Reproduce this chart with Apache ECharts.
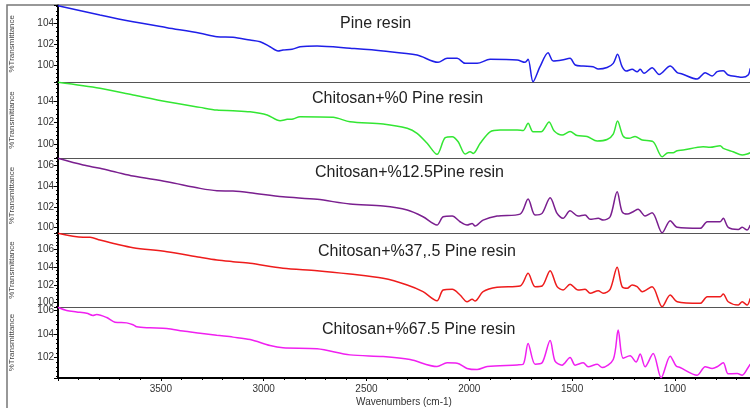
<!DOCTYPE html>
<html>
<head>
<meta charset="utf-8">
<script src="https://cdn.jsdelivr.net/npm/echarts@6/dist/echarts.min.js"></script>
<style>
  html, body { margin: 0; padding: 0; background: #fff; }
  #chart { width: 750px; height: 408px; }
</style>
</head>
<body>
<div id="chart"></div>
<script>
// FTIR spectra, [wavenumber, %T]
const sampleNames = [
  'Pine resin',
  'Chitosan+%0 Pine resin',
  'Chitosan+%12.5Pine resin',
  'Chitosan+%37,.5 Pine resin',
  'Chitosan+%67.5 Pine resin'
];

const pineResin = [
  [4000,105.69],[3796,104.8],[3635,104.15],[3470,103.58],[3309,103.04],[3227,102.71],[3149,102.65],
  [3066,102.39],[3017,102.23],[2969,101.75],[2930,101.34],[2906,101.43],[2862,101.5],[2823,101.75],
  [2740,101.82],[2580,101.6],[2419,101.34],[2254,100.95],[2152,100.25],[2108,100.63],[2059,100.63],
  [2020,100.15],[1962,100.15],[1899,100.54],[1767,100.47],[1729,100.25],[1714,100.54],[1690,98.38],
  [1656,99.83],[1617,101.17],[1592,100.38],[1549,100.47],[1510,100.63],[1485,99.99],[1446,99.89],
  [1398,99.83],[1373,99.61],[1330,99.75],[1300,100.15],[1279,101.02],[1257,99.83],[1237,99.41],
  [1208,99.58],[1184,99.35],[1169,99.58],[1150,99.19],[1111,99.73],[1077,99.08],[1023,99.89],
  [989,99.27],[965,99.13],[892,98.64],[853,99.25],[819,98.93],[795,99.35],[765,99.44],[741,99.03],
  [697,98.87],[673,98.81],[644,99.03],[634,99.67]
];

const chitosan0 = [
  [4000,105.74],[3796,105.18],[3635,104.56],[3470,103.93],[3309,103.41],[3227,103.16],[3149,103.1],
  [3066,103.0],[2983,102.7],[2920,102.17],[2885,102.3],[2857,102.33],[2823,102.54],[2662,102.48],
  [2580,102.07],[2419,101.86],[2302,101.46],[2254,101.0],[2205,100.07],[2157,99.04],[2117,100.59],
  [2083,100.68],[2054,100.21],[2020,99.07],[1996,99.28],[1981,99.13],[1947,100.07],[1899,101.14],
  [1850,101.3],[1767,101.3],[1738,101.26],[1714,101.93],[1690,101.14],[1651,101.14],[1612,102.05],
  [1587,101.21],[1549,100.84],[1510,101.16],[1476,100.79],[1427,100.7],[1378,100.28],[1330,100.42],
  [1300,100.93],[1279,102.14],[1252,100.74],[1223,100.53],[1194,100.7],[1159,100.37],[1106,100.21],
  [1062,98.82],[1033,99.19],[1009,99.19],[989,99.38],[960,99.44],[863,99.75],[829,99.69],[780,99.84],
  [765,99.6],[717,99.28],[673,98.98],[649,99.07],[634,99.19]
];

const chitosan12 = [
  [4000,106.72],[3878,106.07],[3796,105.75],[3713,105.36],[3635,105.0],[3470,104.45],[3309,103.81],
  [3227,103.58],[3149,103.55],[3066,103.39],[2906,103.0],[2740,102.75],[2580,102.29],[2419,102.1],
  [2302,101.71],[2225,101.06],[2157,100.26],[2127,101.06],[2083,101.13],[2045,100.58],[2011,100.26],
  [1986,100.42],[1972,100.16],[1933,100.74],[1865,101.13],[1753,101.32],[1714,102.78],[1680,101.23],
  [1646,101.39],[1607,102.9],[1573,101.39],[1544,100.91],[1510,101.64],[1471,101.13],[1437,101.23],
  [1412,100.81],[1373,100.91],[1349,100.74],[1315,101.06],[1281,103.48],[1257,101.55],[1232,101.32],
  [1203,101.55],[1179,101.78],[1145,101.13],[1111,101.45],[1062,99.51],[1023,100.68],[989,100.04],
  [877,99.94],[843,100.58],[780,100.58],[765,100.91],[741,100.04],[692,99.84],[673,100.04],
  [649,99.78],[634,100.26]
];

const chitosan37 = [
  [4000,107.8],[3878,107.35],[3844,107.35],[3796,107.04],[3713,106.56],[3635,106.18],[3470,105.73],
  [3309,105.1],[3227,104.8],[3149,104.61],[3066,104.43],[2906,103.87],[2740,103.6],[2580,103.22],
  [2419,102.74],[2302,101.99],[2225,101.24],[2157,100.22],[2127,101.43],[2083,101.51],[2045,100.87],
  [2011,100.11],[1986,100.38],[1972,100.19],[1933,101.24],[1865,101.73],[1753,101.88],[1714,103.3],
  [1680,101.8],[1646,101.88],[1607,103.6],[1573,101.8],[1544,101.43],[1510,102.07],[1471,101.43],
  [1437,101.51],[1412,101.06],[1373,101.35],[1349,101.06],[1315,101.51],[1281,103.98],[1257,101.8],
  [1232,101.62],[1208,101.99],[1184,101.8],[1159,101.24],[1111,101.8],[1062,99.55],[1023,100.87],
  [989,100.11],[877,99.93],[843,100.67],[780,100.67],[765,100.98],[741,100.11],[692,99.74],
  [673,100.11],[649,99.74],[634,100.49]
];

const chitosan67 = [
  [4000,106.3],[3958,106.02],[3909,105.9],[3860,105.78],[3830,105.6],[3812,105.68],[3763,105.42],
  [3723,105.02],[3666,104.96],[3635,104.8],[3617,104.62],[3553,104.54],[3471,104.48],[3392,104.26],
  [3309,104.08],[3228,103.9],[3149,103.74],[3066,103.54],[2969,103.02],[2906,102.82],[2740,102.74],
  [2580,102.22],[2419,102.08],[2288,101.82],[2157,101.22],[2108,101.54],[2059,101.5],[2011,101.06],
  [1962,100.96],[1913,101.22],[1767,101.36],[1738,101.42],[1714,103.2],[1680,101.42],[1646,101.54],
  [1607,103.46],[1583,101.68],[1549,101.34],[1510,102.0],[1485,101.34],[1446,101.54],[1422,101.2],
  [1378,101.42],[1354,101.14],[1300,101.82],[1276,104.34],[1252,101.94],[1218,102.14],[1189,101.6],
  [1169,102.3],[1145,101.2],[1106,102.34],[1067,100.26],[1023,102.11],[994,101.26],[975,101.14],
  [892,100.48],[853,101.2],[819,101.06],[795,101.2],[765,101.54],[741,100.6],[697,100.62],
  [673,100.48],[644,101.14],[634,101.42]
];

const spectra = [pineResin, chitosan0, chitosan12, chitosan37, chitosan67];
const lineColors = ['#1f1fe8', '#33e633', '#7a1f8f', '#ee1c1c', '#f020f0'];

// %T range shown in each panel
const yRanges = [[98.36, 105.71], [98.7, 105.77], [99.49, 106.75], [99.52, 107.83], [100.24, 106.32]];

// panel layout (px)
const panelTops = [5.5, 82, 158, 233, 307];
const plotBottom = 383;
const plotLeft = 58;
const titlePos = [[340, 16], [312, 91], [315, 165], [318, 244], [322, 322]];

const chart = echarts.init(document.getElementById('chart'));

const grids = [], xAxes = [], yAxes = [], series = [], titles = [];
spectra.forEach((data, i) => {
  const top = panelTops[i];
  const bottom = i < 4 ? panelTops[i + 1] : plotBottom;
  const last = i === 4;
  grids.push({ left: plotLeft, right: 0, top: top, height: bottom - top });
  xAxes.push({
    type: 'value',
    gridIndex: i,
    inverse: true,
    min: 635,
    max: 4000,
    minInterval: 500,
    maxInterval: 500,
    name: last ? 'Wavenumbers (cm-1)' : '',
    nameLocation: 'middle',
    nameGap: 19,
    nameTextStyle: { fontFamily: 'Liberation Sans', fontSize: 10, color: '#333' },
    axisLine: last
      ? { lineStyle: { color: '#000', width: 2 } }
      : { lineStyle: { color: '#555', width: 1 } },
    axisTick: { show: last, length: 3, lineStyle: { color: '#000' } },
    minorTick: { show: last, splitNumber: 5, length: 2, lineStyle: { color: '#000' } },
    axisLabel: {
      show: last,
      showMinLabel: false,
      showMaxLabel: false,
      margin: 6,
      formatter: v => String(v),
      fontFamily: 'Liberation Sans',
      fontSize: 10,
      color: '#333'
    },
    splitLine: { show: false }
  });
  yAxes.push({
    type: 'value',
    gridIndex: i,
    min: yRanges[i][0],
    max: yRanges[i][1],
    minInterval: 2,
    maxInterval: 2,
    name: '%Transmittance',
    nameLocation: 'middle',
    nameGap: 42,
    nameTextStyle: { fontFamily: 'Liberation Sans', fontSize: 8, color: '#444' },
    axisLine: { show: true, lineStyle: { color: '#000', width: 2 } },
    axisTick: { length: 4, lineStyle: { color: '#000' } },
    minorTick: { show: true, splitNumber: 5, length: 2, lineStyle: { color: '#000' } },
    axisLabel: {
      showMinLabel: false,
      showMaxLabel: false,
      margin: 4,
      formatter: v => String(v),
      fontFamily: 'Liberation Sans',
      fontSize: 10,
      color: '#333'
    },
    splitLine: { show: false }
  });
  series.push({
    name: sampleNames[i],
    type: 'line',
    xAxisIndex: i,
    yAxisIndex: i,
    data: data,
    showSymbol: false,
    smooth: 0.3,
    lineStyle: { color: lineColors[i], width: 1.5 },
    animation: false
  });
  titles.push({
    text: sampleNames[i],
    left: titlePos[i][0],
    top: titlePos[i][1],
    padding: 0,
    textStyle: { fontFamily: 'Liberation Sans', fontSize: 16, fontWeight: 'normal', color: '#222' }
  });
});

chart.setOption({
  animation: false,
  title: titles,
  grid: grids,
  xAxis: xAxes,
  yAxis: yAxes,
  series: series,
  graphic: [{
    type: 'rect',
    z: -1,
    shape: { x: 7, y: 5, width: 800, height: 450 },
    style: { fill: 'none', stroke: '#777', lineWidth: 1.5 }
  }]
});
</script>
</body>
</html>
